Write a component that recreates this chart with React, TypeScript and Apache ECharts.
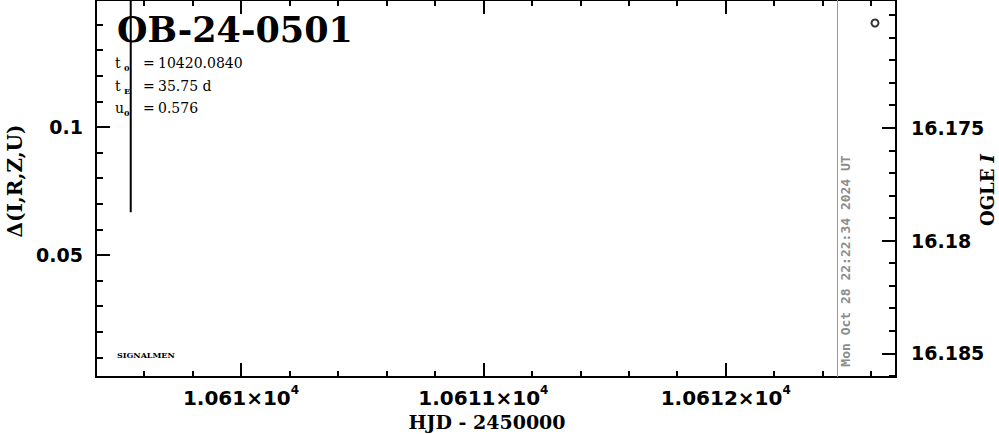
import React, { useEffect, useRef } from "react";
import * as echarts from "echarts";

// ---- axis ranges and ticks ----
const X_MIN = 10609.4017;
const X_MAX = 10612.7027;
const X_MAJOR = [10610, 10611, 10612];
const X_MINOR = [
  10609.6, 10609.8, 10610.2, 10610.4, 10610.6, 10610.8, 10611.2, 10611.4, 10611.6,
  10611.8, 10612.2, 10612.4, 10612.6,
];

const LEFT_MIN = 0.002344;
const LEFT_MAX = 0.14961;
const LEFT_MAJOR = [0.05, 0.1];
const LEFT_MINOR = [0.01, 0.02, 0.03, 0.04, 0.06, 0.07, 0.08, 0.09, 0.11, 0.12, 0.13, 0.14];

const RIGHT_MIN = 16.16934;
const RIGHT_MAX = 16.18605;
const RIGHT_MAJOR = [16.175, 16.18, 16.185];
const RIGHT_MINOR = [
  16.17, 16.171, 16.172, 16.173, 16.174, 16.176, 16.177, 16.178, 16.179, 16.181,
  16.182, 16.183, 16.184, 16.186,
];

// ---- data ----
const obsHJD = [10612.616];
const obsMag = [16.17036];
const errHJD = [10609.545, 10609.545];
const errMag = [16.17875, 16.16];
const nowHJD = 10612.458;

const TITLE = "OB-24-0501";
const PARAM_NAMES = ["t", "t", "u"];
const PARAM_SUBS = ["0", "E", "0"];
const PARAM_VALUES = ["10420.0840", "35.75 d", "0.576"];
const TIMESTAMP = "Mon Oct 28 22:22:34 2024 UT";

const NUM_FONT = "DejaVu Sans";
const SERIF = "DejaVu Serif";

function xAxis(position: string, ticks: number[], len: number, labels: boolean, line: boolean) {
  return {
    type: "value",
    position,
    min: X_MIN,
    max: X_MAX,
    axisLine: { show: line, onZero: false, lineStyle: { color: "#000", width: 2 } },
    axisTick: { show: true, inside: true, length: len, customValues: ticks, lineStyle: { color: "#000", width: 2 } },
    axisLabel: {
      show: labels,
      customValues: ticks,
      margin: 7,
      formatter: (v: number) => `{n|${parseFloat((v / 1e4).toFixed(5))}×10}{s|4}`,
      rich: {
        n: { fontFamily: NUM_FONT, fontWeight: "bold", fontSize: 20, color: "#000", lineHeight: 24, verticalAlign: "bottom" },
        s: { fontFamily: NUM_FONT, fontWeight: "bold", fontSize: 12, color: "#000", lineHeight: 24, verticalAlign: "top" },
      },
    },
    splitLine: { show: false },
  };
}

function yAxis(
  position: string,
  min: number,
  max: number,
  inverse: boolean,
  ticks: number[],
  len: number,
  labels: boolean,
  line: boolean,
  margin: number
) {
  return {
    type: "value",
    position,
    min,
    max,
    inverse,
    axisLine: { show: line, onZero: false, lineStyle: { color: "#000", width: 2 } },
    axisTick: { show: true, inside: true, length: len, customValues: ticks, lineStyle: { color: "#000", width: 2 } },
    axisLabel: {
      show: labels,
      customValues: ticks,
      margin,
      color: "#000",
      fontFamily: NUM_FONT,
      fontWeight: "bold",
      fontSize: 19,
      formatter: (v: number) => String(parseFloat(v.toFixed(5))),
    },
    splitLine: { show: false },
  };
}

const paramRich = {
  i: { fontFamily: SERIF, fontSize: 14, color: "#000", lineHeight: 18, verticalAlign: "middle", width: 9 },
  s: { fontFamily: SERIF, fontWeight: "bold", fontSize: 8, color: "#000", lineHeight: 18, verticalAlign: "bottom", width: 19 },
  e: { fontFamily: SERIF, fontSize: 14, color: "#000", lineHeight: 18, verticalAlign: "middle", width: 15 },
  m: { fontFamily: SERIF, fontSize: 14, color: "#000", lineHeight: 18, verticalAlign: "middle" },
};

const PARAM_Y = [63, 86, 108];

const option = {
  animation: false,
  backgroundColor: "#fff",
  grid: { left: 96, right: 103, top: 0, bottom: 57 },
  xAxis: [
    xAxis("bottom", X_MAJOR, 14, true, true),
    xAxis("bottom", X_MINOR, 6, false, false),
    xAxis("top", X_MAJOR, 14, false, true),
    xAxis("top", X_MINOR, 6, false, false),
  ],
  yAxis: [
    yAxis("left", LEFT_MIN, LEFT_MAX, false, LEFT_MAJOR, 14, true, true, 13),
    yAxis("left", LEFT_MIN, LEFT_MAX, false, LEFT_MINOR, 7, false, false, 13),
    yAxis("right", RIGHT_MIN, RIGHT_MAX, true, RIGHT_MAJOR, 14, true, true, 15),
    yAxis("right", RIGHT_MIN, RIGHT_MAX, true, RIGHT_MINOR, 7, false, false, 15),
  ],
  series: [
    {
      type: "line",
      xAxisIndex: 0,
      yAxisIndex: 2,
      data: errHJD.map((x, i) => [x, errMag[i]]),
      symbol: "none",
      clip: true,
      lineStyle: { color: "#000", width: 2 },
      silent: true,
    },
    {
      type: "scatter",
      xAxisIndex: 0,
      yAxisIndex: 2,
      data: obsHJD.map((x, i) => [x, obsMag[i]]),
      symbol: "circle",
      symbolSize: 7,
      itemStyle: { color: "#fff", borderColor: "#000", borderWidth: 2 },
      markLine: {
        silent: true,
        symbol: "none",
        label: { show: false },
        lineStyle: { color: "#999", width: 1, type: "solid" },
        data: [{ xAxis: nowHJD }],
      },
    },
  ],
  graphic: [
    {
      type: "text",
      x: 117,
      y: 29,
      style: { text: TITLE, fontFamily: SERIF, fontWeight: "bold", fontSize: 35, fill: "#000", align: "left", verticalAlign: "middle" },
    },
    ...PARAM_NAMES.map((n, k) => ({
      type: "text",
      x: 115,
      y: PARAM_Y[k],
      style: {
        text: `{i|${n}}{s|${PARAM_SUBS[k]}}{e|=}{m|${PARAM_VALUES[k]}}`,
        rich: paramRich,
        align: "left",
        verticalAlign: "middle",
      },
    })),
    {
      type: "text",
      x: 117,
      y: 355,
      style: { text: "SIGNALMEN", fontFamily: SERIF, fontWeight: "bold", fontSize: 8, fill: "#000", align: "left", verticalAlign: "middle" },
    },
    {
      type: "text",
      x: 845,
      y: 261,
      rotation: Math.PI / 2,
      style: { text: TIMESTAMP, fontFamily: "DejaVu Sans Mono", fontWeight: "bold", fontSize: 13, fill: "#8c8c8c", align: "center", verticalAlign: "middle" },
    },
    {
      type: "text",
      x: 15,
      y: 181,
      rotation: Math.PI / 2,
      style: { text: "Δ(I,R,Z,U)", fontFamily: SERIF, fontWeight: "bold", fontSize: 20, fill: "#000", align: "center", verticalAlign: "middle" },
    },
    {
      type: "text",
      x: 987,
      y: 190,
      rotation: Math.PI / 2,
      style: {
        text: "{a|OGLE }{b|I}",
        rich: {
          a: { fontFamily: SERIF, fontWeight: "bold", fontSize: 18, color: "#000" },
          b: { fontFamily: SERIF, fontWeight: "bold", fontStyle: "italic", fontSize: 18, color: "#000" },
        },
        align: "center",
        verticalAlign: "middle",
      },
    },
    {
      type: "text",
      x: 487,
      y: 422,
      style: { text: "HJD - 2450000", fontFamily: SERIF, fontWeight: "bold", fontSize: 19, fill: "#000", align: "center", verticalAlign: "middle" },
    },
  ],
};

export default function App() {
  const ref = useRef<HTMLDivElement>(null);
  useEffect(() => {
    const chart = echarts.init(ref.current!, null, { renderer: "svg" });
    chart.setOption(option as any);
    return () => chart.dispose();
  }, []);
  return (
    <div
      ref={ref}
      style={{ position: "fixed", left: 0, top: 0, width: 999, height: 434, background: "#fff" }}
    />
  );
}
